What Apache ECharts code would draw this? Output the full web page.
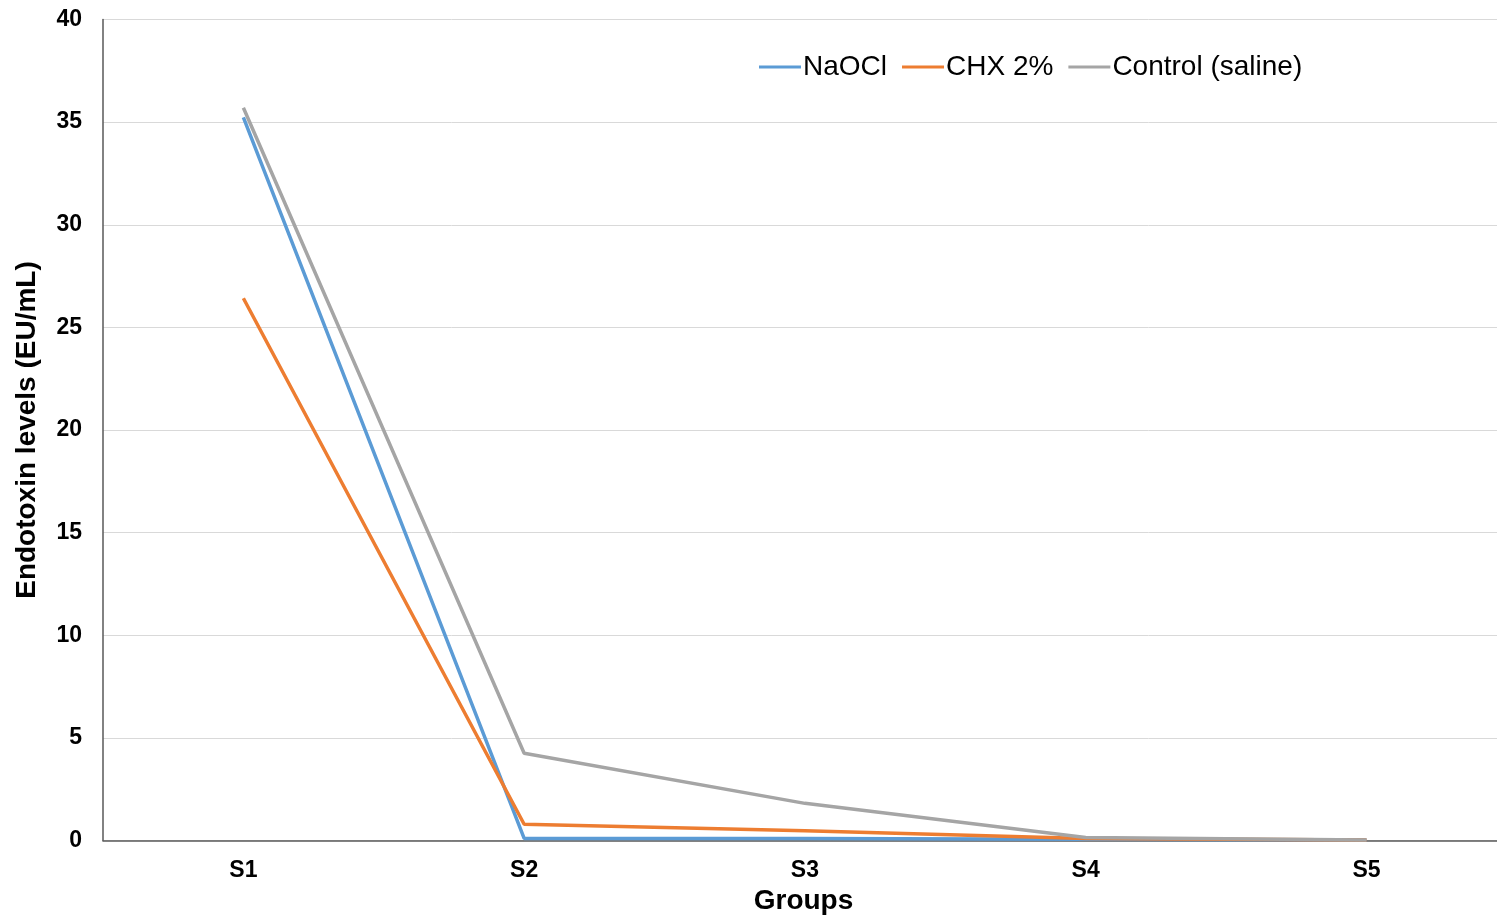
<!DOCTYPE html>
<html>
<head>
<meta charset="utf-8">
<script src="https://cdn.jsdelivr.net/npm/echarts@6/dist/echarts.min.js"></script>
<style>
  html, body { margin: 0; padding: 0; background: #ffffff; }
  #chart { width: 1497px; height: 917px; }
</style>
</head>
<body>
<div id="chart"></div>
<script>
// Endotoxin levels per sampling group
const groups = ['S1', 'S2', 'S3', 'S4', 'S5'];
const naocl = [35.23, 0.1, 0.1, 0.06, 0.02];
const chx = [26.42, 0.79, 0.48, 0.1, 0.02];
const control = [35.7, 4.25, 1.81, 0.15, 0.03];
const yTicks = { min: 0, max: 40, interval: 5 };

const fontFamily = '"Liberation Sans", Arial, sans-serif';

// groups sit at 0..4 on a numeric x axis; the right edge cuts the last band short
const groupIndex = groups.map(function (g, i) { return i; });
const xMin = -0.5;
const xMax = 4.465;

const chart = echarts.init(document.getElementById('chart'), null, { renderer: 'canvas' });

function lineSeries(name, values, color) {
  return {
    name: name,
    type: 'line',
    data: values.map(function (v, i) { return [groupIndex[i], v]; }),
    symbol: 'none',
    smooth: false,
    lineStyle: { color: color, width: 3.5 },
    itemStyle: { color: color },
    emphasis: { disabled: true }
  };
}

chart.setOption({
  animation: false,
  backgroundColor: '#ffffff',
  textStyle: { fontFamily: fontFamily },
  grid: { left: 103, right: 0, top: 19.5, bottom: 76.5, containLabel: false, outerBoundsMode: 'none' },
  legend: {
    top: 48,
    left: 754,
    itemWidth: 42,
    itemHeight: 3,
    itemGap: 15,
    icon: 'rect',
    textStyle: { fontSize: 28, color: '#000000', fontFamily: fontFamily, padding: [0, 0, 0, -3] },
    data: ['NaOCl', 'CHX 2%', 'Control (saline)']
  },
  xAxis: {
    type: 'value',
    min: xMin,
    max: xMax,
    name: 'Groups',
    nameLocation: 'middle',
    nameGap: 43,
    nameTextStyle: { fontSize: 28, fontWeight: 'bold', color: '#000000', fontFamily: fontFamily, padding: [0, 0, 0, 7] },
    axisLine: { onZero: false, lineStyle: { color: '#595959', width: 1.5 } },
    axisTick: { show: false },
    axisLabel: {
      customValues: groupIndex,
      formatter: function (v) { return groups[Math.round(v)]; },
      fontSize: 23, fontWeight: 'bold', color: '#000000', margin: 19, fontFamily: fontFamily
    },
    splitLine: { show: false }
  },
  yAxis: {
    type: 'value',
    min: yTicks.min,
    max: yTicks.max,
    interval: yTicks.interval,
    name: 'Endotoxin levels (EU/mL)',
    nameLocation: 'middle',
    nameGap: 62,
    nameTextStyle: { fontSize: 28, fontWeight: 'bold', color: '#000000', fontFamily: fontFamily },
    axisLine: { show: true, onZero: false, lineStyle: { color: '#595959', width: 1.5 } },
    axisTick: { show: false },
    axisLabel: { fontSize: 23, fontWeight: 'bold', color: '#000000', margin: 21, fontFamily: fontFamily },
    splitLine: { lineStyle: { color: '#d9d9d9', width: 1 } }
  },
  series: [
    lineSeries('NaOCl', naocl, '#5b9bd5'),
    lineSeries('CHX 2%', chx, '#ed7d31'),
    lineSeries('Control (saline)', control, '#a5a5a5')
  ]
});
</script>
</body>
</html>
